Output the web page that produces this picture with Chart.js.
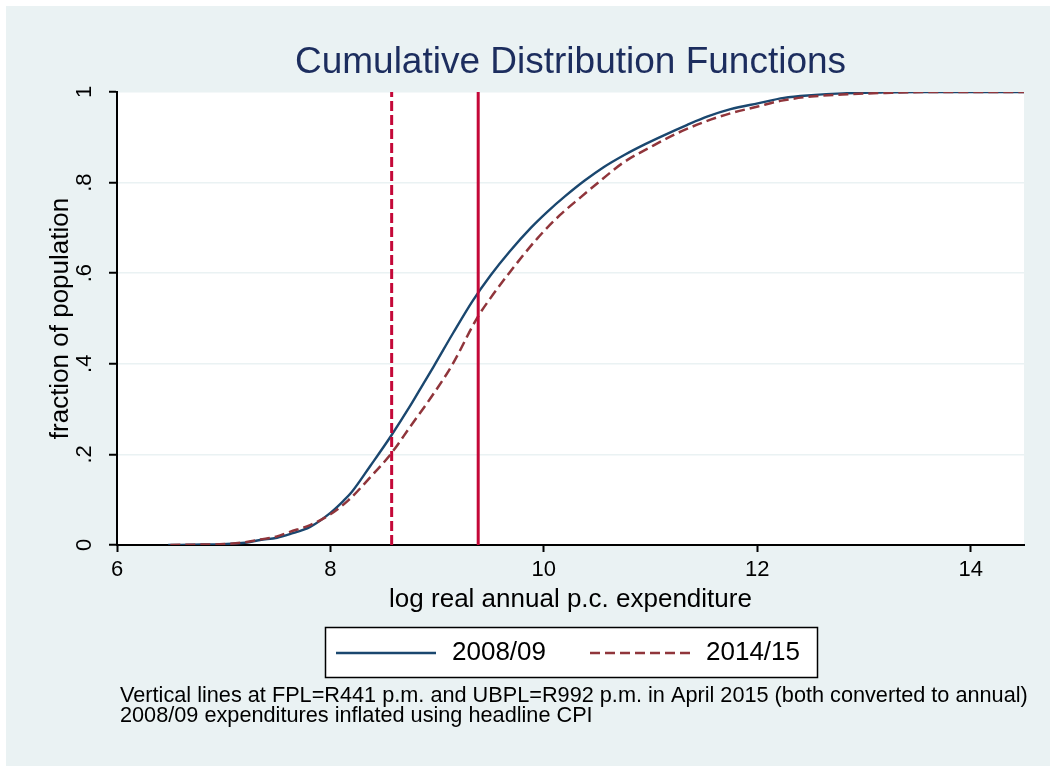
<!DOCTYPE html>
<html>
<head>
<meta charset="utf-8">
<script src="https://cdn.jsdelivr.net/npm/chart.js@4/dist/chart.umd.min.js"></script>
<style>
html,body{margin:0;padding:0;background:#ffffff;}
#wrap{width:1052px;height:770px;position:relative;}
canvas{display:block;}
</style>
</head>
<body>
<div id="wrap"><canvas id="c" width="1052" height="770"></canvas></div>
<script>
// ---- data ----
const titleText = "Cumulative Distribution Functions";
const xTitle = "log real annual p.c. expenditure";
const yTitle = "fraction of population";
const seriesLabels = ["2008/09", "2014/15"];
const noteLines = [
  "Vertical lines at FPL=R441 p.m. and UBPL=R992 p.m. in April 2015 (both converted to annual)",
  "2008/09 expenditures inflated using headline CPI"
];

const x2008 = [6.48, 6.8, 7.0, 7.2, 7.34, 7.5, 7.62, 7.81, 8.0, 8.12, 8.2, 8.375, 8.563, 8.75, 8.876, 8.97, 9.15, 9.33, 9.5, 9.68, 9.878, 10.035, 10.2, 10.38, 10.56, 10.754, 10.95, 11.13, 11.34, 11.536, 11.75, 12.005, 12.25, 12.507, 12.8, 13.16, 13.5, 14.5];
const cdf2008 = [0, 0.001, 0.002, 0.005, 0.011, 0.016, 0.024, 0.040, 0.071, 0.097, 0.117, 0.175, 0.239, 0.308, 0.358, 0.395, 0.468, 0.538, 0.595, 0.648, 0.700, 0.736, 0.77, 0.804, 0.834, 0.861, 0.885, 0.905, 0.927, 0.946, 0.962, 0.975, 0.987, 0.993, 0.997, 0.999, 1.0, 1.0];

const x2014 = [6.5, 6.8, 7.0, 7.2, 7.34, 7.5, 7.62, 7.81, 8.0, 8.17, 8.375, 8.563, 8.75, 8.97, 9.14, 9.377, 9.5, 9.674, 9.94, 10.15, 10.347, 10.535, 10.75, 11.005, 11.25, 11.505, 11.75, 12.005, 12.23, 12.507, 12.85, 13.2, 13.6, 14.5];
const cdf2014 = [0, 0.001, 0.002, 0.006, 0.012, 0.019, 0.029, 0.044, 0.068, 0.099, 0.150, 0.20, 0.262, 0.335, 0.397, 0.502, 0.545, 0.60, 0.677, 0.728, 0.768, 0.805, 0.845, 0.879, 0.909, 0.934, 0.953, 0.968, 0.981, 0.99, 0.995, 0.998, 1.0, 1.0];

// poverty lines: log(441*12) and log(992*12)
const fplLog = [8.574];
const ubplLog = [9.385];

const xTickValues = [6, 8, 10, 12, 14];
const xTickLabels = ["6", "8", "10", "12", "14"];
const yTickValues = [0, 0.2, 0.4, 0.6, 0.8, 1];
const yTickLabels = ["0", ".2", ".4", ".6", ".8", "1"];
const xRange = [6, 14.5];
const yRange = [0, 1];

// ---- styles ----
const FONT = "'Liberation Sans', Arial, Helvetica, sans-serif";
const BG = "#EAF2F3";
const BLUE = "#1A476F";
const MAROON = "#90353B";
const CRANBERRY = "#C40838";

const toPts = (xs, ys) => xs.map((x, i) => ({x: x, y: ys[i]}));
const vline = (v) => [{x: v, y: yRange[0]}, {x: v, y: yRange[1]}];

const decorPlugin = {
  id: 'decor',
  beforeDraw(chart) {
    const ctx = chart.ctx, a = chart.chartArea;
    ctx.save();
    ctx.fillStyle = "#ffffff";
    ctx.fillRect(0, 0, chart.width, chart.height);
    ctx.fillStyle = BG;
    ctx.fillRect(6, 6, chart.width - 8, chart.height - 10);
    ctx.fillStyle = "#ffffff";
    ctx.fillRect(a.left, a.top, a.right - a.left, a.bottom - a.top);
    ctx.restore();
  },
  afterDraw(chart) {
    const ctx = chart.ctx, a = chart.chartArea;
    const cx = (a.left + a.right) / 2;
    ctx.save();
    // title
    ctx.fillStyle = "#1C2D5E";
    ctx.font = "37px " + FONT;
    ctx.textAlign = "center";
    ctx.textBaseline = "alphabetic";
    ctx.fillText(titleText, cx, 73);
    // legend box
    const bw = 492, bh = 50, bx = Math.round(cx - bw / 2), by = 627;
    ctx.fillStyle = "#ffffff";
    ctx.fillRect(bx, by, bw, bh);
    ctx.strokeStyle = "#000000";
    ctx.lineWidth = 1.5;
    ctx.strokeRect(bx + 0.5, by + 0.5, bw, bh);
    const items = [
      {label: seriesLabels[0], color: BLUE, dash: [], x0: bx + 11, tx: bx + 127},
      {label: seriesLabels[1], color: MAROON, dash: [10, 5], x0: bx + 265, tx: bx + 381}
    ];
    ctx.font = "26px " + FONT;
    ctx.textAlign = "left";
    items.forEach(it => {
      ctx.beginPath();
      ctx.setLineDash(it.dash);
      ctx.strokeStyle = it.color;
      ctx.lineWidth = 2.5;
      ctx.moveTo(it.x0, by + 26);
      ctx.lineTo(it.x0 + 100, by + 26);
      ctx.stroke();
      ctx.setLineDash([]);
      ctx.fillStyle = "#000000";
      ctx.fillText(it.label, it.tx, by + 33);
    });
    // notes
    ctx.font = "21.7px " + FONT;
    ctx.fillStyle = "#000000";
    noteLines.forEach((t, i) => ctx.fillText(t, 120, 702 + i * 20));
    ctx.restore();
  }
};

new Chart(document.getElementById('c'), {
  type: 'line',
  data: {
    datasets: [
      {label: 'FPL', data: vline(fplLog[0]), borderColor: CRANBERRY, borderWidth: 3, borderDash: [10, 4], pointRadius: 0, fill: false},
      {label: 'UBPL', data: vline(ubplLog[0]), borderColor: CRANBERRY, borderWidth: 3, pointRadius: 0, fill: false},
      {label: seriesLabels[1], data: toPts(x2014, cdf2014), borderColor: MAROON, borderWidth: 2.5, borderDash: [10, 5], pointRadius: 0, fill: false, cubicInterpolationMode: 'monotone'},
      {label: seriesLabels[0], data: toPts(x2008, cdf2008), borderColor: BLUE, borderWidth: 2.4, pointRadius: 0, fill: false, cubicInterpolationMode: 'monotone'}
    ]
  },
  options: {
    responsive: false,
    animation: false,
    devicePixelRatio: 1,
    layout: {padding: {top: 92, left: 0, right: 28, bottom: 155}},
    plugins: {legend: {display: false}, title: {display: false}, tooltip: {enabled: false}},
    scales: {
      x: {
        type: 'linear', min: xRange[0], max: xRange[1],
        afterBuildTicks: s => { s.ticks = xTickValues.map(v => ({value: v})); },
        afterFit: s => { s.height = 70; },
        ticks: {font: {family: FONT, size: 22}, color: '#000', padding: 5, maxRotation: 0,
                callback: (v, i) => xTickLabels[i]},
        grid: {drawOnChartArea: false, tickLength: 7, tickColor: '#000', tickWidth: 2},
        border: {color: '#000', width: 2},
        title: {display: true, text: xTitle, color: '#000', font: {family: FONT, size: 26}, padding: {top: 0, bottom: 0}}
      },
      y: {
        type: 'linear', min: yRange[0], max: yRange[1],
        afterBuildTicks: s => { s.ticks = yTickValues.map(v => ({value: v})); },
        afterFit: s => { s.width = 117; },
        ticks: {font: {family: FONT, size: 22}, color: '#000', padding: 15, minRotation: 90, maxRotation: 90,
                crossAlign: 'center', callback: (v, i) => yTickLabels[i]},
        grid: {color: BG, lineWidth: 1.5, tickLength: 8, tickColor: '#000', tickWidth: 2},
        border: {color: '#000', width: 2},
        title: {display: true, text: yTitle, color: '#000', font: {family: FONT, size: 26}, padding: {top: 45, bottom: 0}}
      }
    }
  },
  plugins: [decorPlugin]
});
</script>
</body>
</html>
